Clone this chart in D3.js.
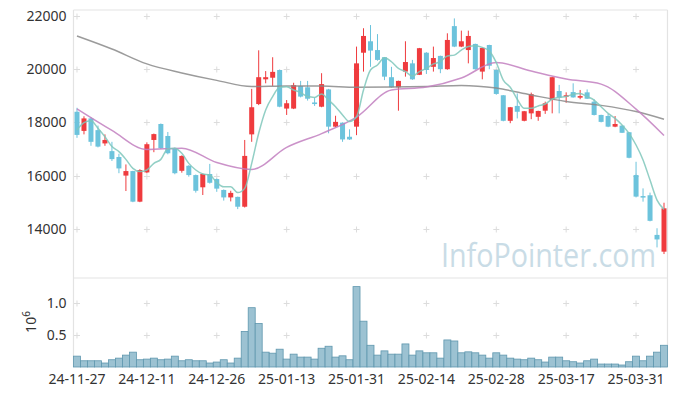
<!DOCTYPE html>
<html>
<head>
<meta charset="utf-8">
<script src="https://cdn.jsdelivr.net/npm/d3@7"></script>
<style>
  body { margin: 0; background: #fff; }
  svg { display: block; font-family: "Noto Sans", sans-serif; }
</style>
</head>
<body>
<svg width="677" height="396"></svg>
<script>
// trading days (categories)
const dates = [
  '24-11-27','24-11-28','24-11-29','24-12-02','24-12-03','24-12-04','24-12-05','24-12-06','24-12-09','24-12-10',
  '24-12-11','24-12-12','24-12-13','24-12-16','24-12-17','24-12-18','24-12-19','24-12-20','24-12-23','24-12-24',
  '24-12-26','24-12-27','24-12-30','25-01-02','25-01-03','25-01-06','25-01-07','25-01-08','25-01-09','25-01-10',
  '25-01-13','25-01-14','25-01-15','25-01-16','25-01-17','25-01-20','25-01-21','25-01-22','25-01-23','25-01-24',
  '25-01-31','25-02-03','25-02-04','25-02-05','25-02-06','25-02-07','25-02-10','25-02-11','25-02-12','25-02-13',
  '25-02-14','25-02-17','25-02-18','25-02-19','25-02-20','25-02-21','25-02-24','25-02-25','25-02-26','25-02-27',
  '25-02-28','25-03-04','25-03-05','25-03-06','25-03-07','25-03-10','25-03-11','25-03-12','25-03-13','25-03-14',
  '25-03-17','25-03-18','25-03-19','25-03-20','25-03-21','25-03-24','25-03-25','25-03-26','25-03-27','25-03-28',
  '25-03-31','25-04-01','25-04-02','25-04-03','25-04-04'
];

const open = [
  18400,17680,18150,17710,17210,16920,16700,16000,16170,15020,
  16120,17340,17940,17490,17030,16180,16370,16020,15560,16060,
  15870,15460,15180,15200,14830,17550,18690,19620,19680,19970,
  18520,18520,19370,19320,18750,18590,19240,17840,17990,17460,
  17840,20620,21050,20720,20450,19700,19320,19910,20220,19790,
  20620,20090,20500,20000,21620,20850,20720,20950,19910,20910,
  19970,19020,18060,18620,18060,18340,18210,18440,18840,19180,
  18970,19140,18930,19130,18780,18280,18240,17840,17880,17630,
  16020,15230,15260,13770,13140
];
const high = [
  18550,18230,18200,17880,17550,17270,16820,16420,16180,16240,
  17250,17580,17960,17640,17050,16760,16390,16040,16080,16440,
  15890,15480,15430,15210,17340,19260,20710,19930,20450,19990,
  18840,19490,19560,19560,18930,19850,19260,18250,18000,17740,
  20850,21540,21660,21320,20460,20090,19570,21050,20350,20800,
  20640,20850,20510,21350,21910,21450,21450,20960,20810,20920,
  19990,19030,18580,19090,18430,19120,18440,18780,19710,19410,
  19130,19470,19220,19240,18870,18290,18320,18240,17890,17640,
  16520,15520,15360,14020,14980
];
const low = [
  17420,17550,17120,17060,17120,16550,16090,15420,15000,15000,
  16090,16880,17000,16800,16050,16110,15960,15360,15270,15700,
  15390,15060,15030,14740,14800,17270,18650,19470,19370,18570,
  18280,18500,18940,18820,18620,18570,17590,17820,17270,17340,
  17520,19910,20090,20320,19590,19300,18440,19720,19600,19780,
  19820,19910,19850,19980,20830,20830,20220,19980,19620,20000,
  19040,18040,17970,18150,18040,18120,18060,18320,18340,18340,
  18740,18930,18870,18880,18260,18000,17820,17820,17600,16650,
  15180,15020,14280,13300,13050
];
const close = [
  17530,18150,17270,17090,17340,16620,16270,16170,15020,16210,
  17180,17560,17030,16840,16090,16740,16020,15430,16060,15730,
  15510,15180,15350,14830,16740,18570,19700,19700,19900,18590,
  18720,19400,18970,18890,18690,19440,17840,18020,17360,17360,
  20220,21250,20700,20350,19720,19320,19560,20270,19620,20790,
  19970,20420,20000,21100,20850,21050,21250,20000,20800,20130,
  19070,18060,18570,18400,18420,19060,18430,18720,19700,18940,
  19020,18940,18990,18890,18280,18020,17840,17940,17610,16670,
  15210,15180,14300,13600,14770
];
const volume = [
  0.169,0.097,0.097,0.097,0.062,0.113,0.138,0.185,0.231,0.113,
  0.123,0.138,0.113,0.123,0.169,0.097,0.113,0.097,0.097,0.062,
  0.077,0.113,0.062,0.138,0.554,0.923,0.677,0.231,0.215,0.277,
  0.123,0.200,0.154,0.154,0.123,0.292,0.323,0.154,0.174,0.113,
  1.251,0.713,0.338,0.185,0.251,0.200,0.200,0.359,0.185,0.251,
  0.221,0.221,0.138,0.421,0.405,0.221,0.236,0.221,0.185,0.138,
  0.221,0.185,0.138,0.123,0.113,0.138,0.113,0.077,0.154,0.154,
  0.097,0.082,0.062,0.097,0.123,0.046,0.046,0.046,0.031,0.082,
  0.169,0.097,0.169,0.231,0.338
].map(v => v * 1e6);

// moving averages
const ma5 = [
  17710,17990,18060,17780,17460,17090,16900,16610,16270,16150,
  16210,16460,16610,17010,17030,16840,16460,16210,16060,16020,
  15740,15580,15580,15360,15520,16460,17590,18470,18970,19320,
  19340,19220,19120,18970,18940,19070,18840,18590,18280,18030,
  18210,19220,19970,20160,20430,20280,20030,19910,19740,19910,
  20030,20200,20280,20500,20530,20720,20850,20880,20820,20680,
  20250,19590,19320,18870,18530,18530,18620,18690,18870,18940,
  18970,19060,19090,18970,18840,18590,18340,18150,17900,17590,
  17150,16590,15830,15080,14730
];
const maIdx = [0, 5, 10, 15, 20, 25, 30, 35, 40, 45, 50, 55, 60, 65, 70, 75, 80, 84];
const ma20 = [18510,17700,16980,17030,16490,16230,17060,17580,18200,19220,19330,19670,20250,19930,19630,19440,18500,17510];
const ma120 = [21250,20760,20200,19860,19580,19350,19370,19370,19320,19330,19350,19390,19290,19030,18790,18640,18410,18120];

const priceTicks = [14000, 16000, 18000, 20000, 22000];
const volTicks = [0.5e6, 1.0e6];

const svg = d3.select('svg');
const left = 73.5, right = 667.5;
const pTop = 10, pBottom = 278, vBottom = 367;

const x = d3.scaleBand().domain(dates).range([left, right]).paddingInner(0).paddingOuter(0);
const y = d3.scaleLinear().domain([12150, 22226]).range([pBottom, pTop]);
const yv = d3.scaleLinear().domain([0, 1.385e6]).range([vBottom, pBottom]);
const cx = d => x(d) + x.bandwidth() / 2;

const RED = '#ef3b3e', BLUE = '#6cc3dc';

// frame
const frame = svg.append('g').attr('stroke', '#e3e3e3').attr('stroke-width', 1.2);
frame.append('line').attr('x1', left).attr('x2', left).attr('y1', pTop).attr('y2', vBottom);
frame.append('line').attr('x1', right).attr('x2', right).attr('y1', pTop).attr('y2', vBottom);
frame.append('line').attr('x1', left).attr('x2', right).attr('y1', pTop).attr('y2', pTop);
frame.append('line').attr('x1', left).attr('x2', right).attr('y1', pBottom).attr('y2', pBottom);

// crosshair grid marks
const xTickDates = dates.filter((d, i) => i % 10 === 0);
const marks = svg.append('g').attr('stroke', '#dcdcdc').attr('stroke-width', 1);
const plus = (px, py) => {
  marks.append('line').attr('x1', px - 3).attr('x2', px + 3).attr('y1', py).attr('y2', py);
  marks.append('line').attr('x1', px).attr('x2', px).attr('y1', py - 3).attr('y2', py + 3);
};
xTickDates.forEach(d => {
  priceTicks.forEach(t => plus(cx(d), Math.round(y(t)) + 0.5));
  volTicks.forEach(t => plus(cx(d), Math.round(yv(t)) + 0.5));
});

// watermark
svg.append('text')
  .attr('x', 441).attr('y', 267)
  .attr('font-family', '"Open Sans", "Noto Sans", sans-serif')
  .attr('font-size', 32)
  .attr('textLength', 215)
  .attr('lengthAdjust', 'spacingAndGlyphs')
  .attr('fill', '#c9dce6')
  .text('InfoPointer.com');

// volume bars
svg.append('g').selectAll('rect')
  .data(dates)
  .join('rect')
  .attr('x', d => x(d))
  .attr('width', x.bandwidth())
  .attr('y', (d, i) => yv(volume[i]))
  .attr('height', (d, i) => vBottom - yv(volume[i]))
  .attr('fill', '#9cc2d2')
  .attr('stroke', '#5f97ae')
  .attr('stroke-width', 0.8);

// candles
const candles = svg.append('g').selectAll('g')
  .data(dates)
  .join('g')
  .attr('fill', (d, i) => close[i] >= open[i] ? RED : BLUE)
  .attr('stroke', (d, i) => close[i] >= open[i] ? RED : BLUE);

candles.append('line')
  .attr('x1', d => cx(d)).attr('x2', d => cx(d))
  .attr('y1', (d, i) => y(high[i]))
  .attr('y2', (d, i) => y(low[i]))
  .attr('stroke-width', 1);

candles.append('rect')
  .attr('x', d => cx(d) - 2.5)
  .attr('width', 5)
  .attr('y', (d, i) => y(Math.max(open[i], close[i])))
  .attr('height', (d, i) => Math.max(1.5, Math.abs(y(open[i]) - y(close[i]))))
  .attr('stroke', 'none');

// moving average lines
const lineIdx = (vals, idx) => d3.line()
  .curve(d3.curveMonotoneX)
  .x((v, k) => cx(dates[idx ? idx[k] : k]))
  .y(v => y(v))(vals);

svg.append('path').attr('d', lineIdx(ma120, maIdx))
  .attr('fill', 'none').attr('stroke', '#8a8a8a').attr('stroke-width', 1.5).attr('opacity', 0.85);
svg.append('path').attr('d', lineIdx(ma20, maIdx))
  .attr('fill', 'none').attr('stroke', '#c27fc0').attr('stroke-width', 1.5).attr('opacity', 0.85);
svg.append('path').attr('d', lineIdx(ma5))
  .attr('fill', 'none').attr('stroke', '#7fc7bb').attr('stroke-width', 1.5).attr('opacity', 0.85);

// axes
const axisStyle = g => {
  g.select('.domain').remove();
  g.selectAll('.tick line').remove();
  g.selectAll('.tick text').attr('fill', '#333').attr('font-size', 14).attr('font-family', '"Noto Sans", sans-serif');
};

svg.append('g')
  .attr('transform', `translate(${left - 4},0)`)
  .call(d3.axisLeft(y).tickValues(priceTicks).tickFormat(d3.format('d')).tickSize(0))
  .call(axisStyle);

svg.append('g')
  .attr('transform', `translate(${left - 4},0)`)
  .call(d3.axisLeft(yv).tickValues(volTicks).tickFormat(d => (d / 1e6).toFixed(1)).tickSize(0))
  .call(axisStyle);

svg.append('g')
  .attr('transform', `translate(0,${vBottom + 4})`)
  .call(d3.axisBottom(x).tickValues(xTickDates).tickSize(0))
  .call(axisStyle);

// volume unit label
const unit = svg.append('text')
  .attr('transform', 'translate(36,322) rotate(-90)')
  .attr('text-anchor', 'middle')
  .attr('fill', '#333')
  .attr('font-size', 14);
unit.append('tspan').text('10');
unit.append('tspan').attr('font-size', 10).attr('dy', -6).text('6');
</script>
</body>
</html>
